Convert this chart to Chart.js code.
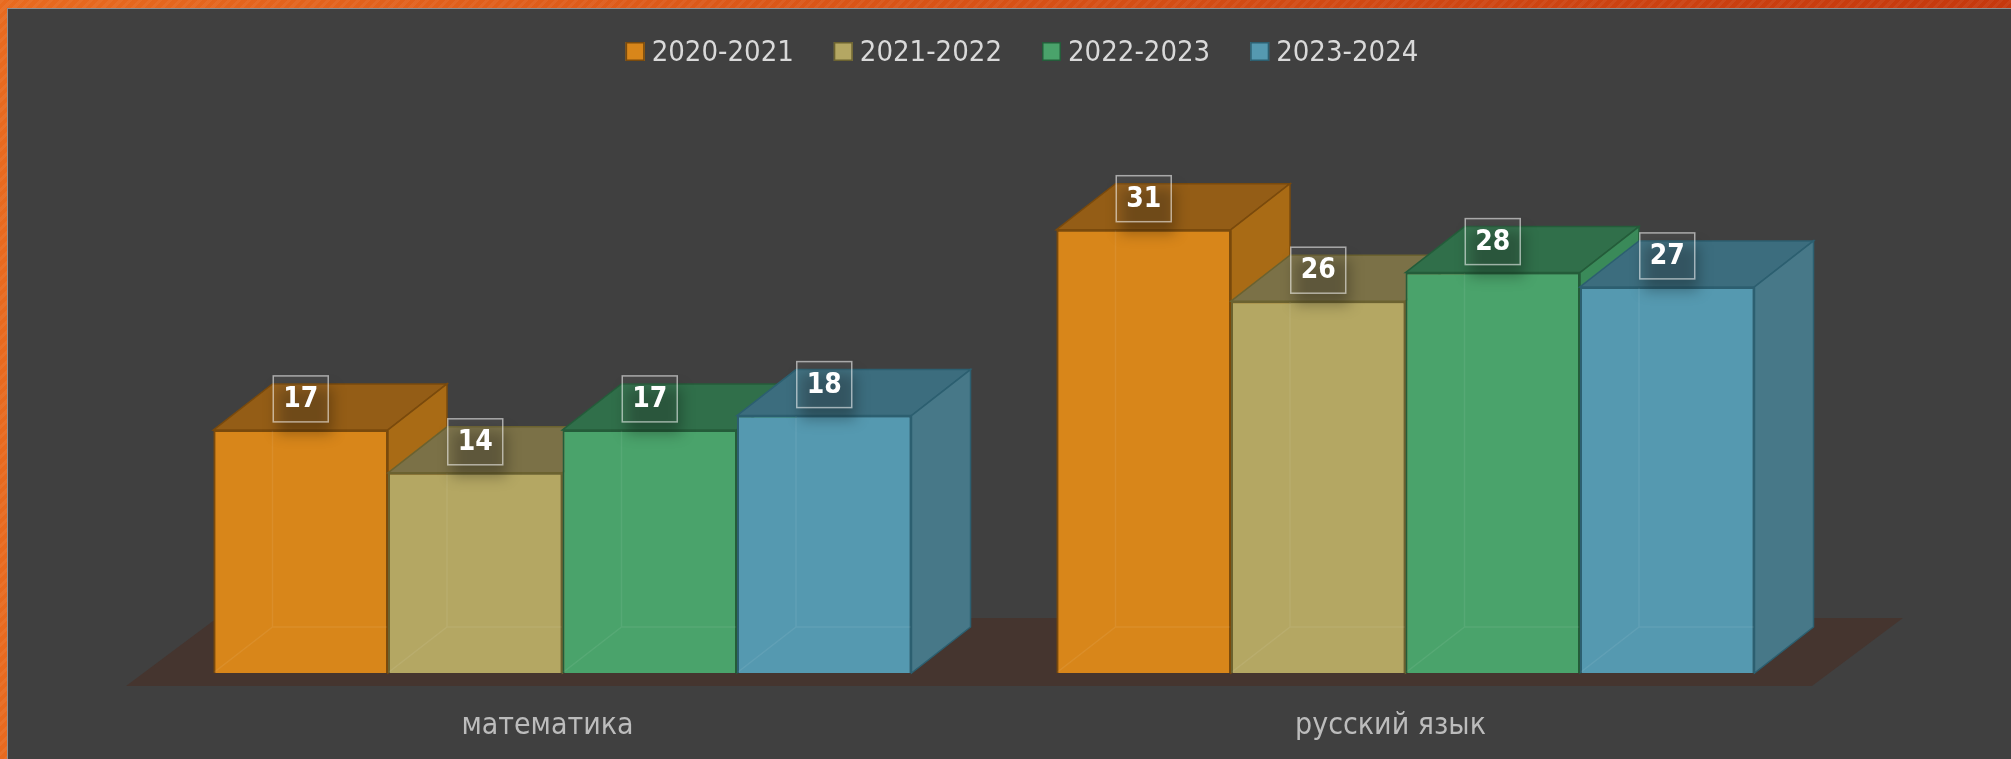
<!DOCTYPE html>
<html lang="ru">
<head>
  <meta charset="UTF-8">
  <title>Результаты по годам</title>
  <script src="https://cdn.jsdelivr.net/npm/chart.js"></script>
  <style>
    body {
      margin: 0;
      width: 2011px;
      height: 759px;
      overflow: hidden;
      position: relative;
      background:
        repeating-linear-gradient(135deg, rgba(255,255,255,0.05) 0 3px, rgba(0,0,0,0) 3px 7px),
        linear-gradient(90deg, #e86a1f, #c5380d);
    }
    .panel {
      position: absolute;
      left: 7px;
      top: 8px;
      right: 0;
      bottom: 0;
      background-color: #404040;
      border-top: 1px solid #8f8f8f;
      border-left: 1px solid #8f8f8f;
    }
    #chart {
      position: absolute;
      left: 0;
      top: 0;
    }
  </style>
</head>
<body>
  <div class="panel">
    <canvas id="chart" width="2003" height="750"></canvas>
  </div>

  <script>
    // data
    const subjects = ['математика', 'русский язык'];
    const years = ['2020-2021', '2021-2022', '2022-2023', '2023-2024'];
    const y2020 = [17, 31];
    const y2021 = [14, 26];
    const y2022 = [17, 28];
    const y2023 = [18, 27];

    // colours: front, top, side, edge
    const fronts = ['#d8861a', '#b4a763', '#4aa36b', '#5599b0'];
    const tops = ['#945d16', '#7b7147', '#306f4a', '#3c6d7e'];
    const sides = ['#a96b15', '#8e8552', '#3a8a59', '#477888'];
    const edges = ['#7a4a0c', '#6b6230', '#245c3a', '#2c5f70'];

    const depth = { dx: 59, dy: 46 };
    const floorDepth = { dx: 91, dy: 68 };
    const fontFamily = '"DejaVu Sans Condensed", "DejaVu Sans", sans-serif';

    function poly(ctx, pts, fill, stroke) {
      ctx.beginPath();
      ctx.moveTo(pts[0][0], pts[0][1]);
      for (let i = 1; i < pts.length; i++) ctx.lineTo(pts[i][0], pts[i][1]);
      ctx.closePath();
      ctx.fillStyle = fill;
      ctx.fill();
      if (stroke) {
        ctx.strokeStyle = stroke;
        ctx.lineWidth = 1.5;
        ctx.stroke();
      }
    }

    // legend drawn on the canvas, tight box/text spacing like the original
    const topLegend = {
      id: 'topLegend',
      afterDraw(chart) {
        const ctx = chart.ctx;
        const box = 19, gap = 7, spacing = 40;
        ctx.save();
        ctx.font = '29px ' + fontFamily;
        ctx.textBaseline = 'alphabetic';
        ctx.textAlign = 'left';
        const items = chart.data.datasets.map(ds => ({
          ds, w: box + gap + ctx.measureText(ds.label).width
        }));
        const total = items.reduce((s, it) => s + it.w, 0) + spacing * (items.length - 1);
        let x = 1014 - total / 2;
        const base = 52;
        items.forEach(it => {
          ctx.fillStyle = it.ds.backgroundColor;
          ctx.fillRect(x, base - box, box, box);
          ctx.strokeStyle = it.ds.borderColor;
          ctx.lineWidth = 1.5;
          ctx.strokeRect(x + 0.75, base - box + 0.75, box - 1.5, box - 1.5);
          ctx.fillStyle = '#d9d9d9';
          ctx.fillText(it.ds.label, x + box + gap, base);
          x += it.w + spacing;
        });
        ctx.restore();
      }
    };

    // 3D boxes, floor and value boxes
    const boxes3d = {
      id: 'boxes3d',
      beforeDatasetsDraw(chart) {
        const ctx = chart.ctx;
        const area = chart.chartArea;
        const y0 = chart.scales.y.getPixelForValue(0) + 13;
        const l = area.left - 15;
        const r = area.right - 15;
        ctx.save();
        poly(ctx, [[l, y0], [r, y0], [r + floorDepth.dx, y0 - floorDepth.dy], [l + floorDepth.dx, y0 - floorDepth.dy]], '#45352f');
        ctx.restore();
      },
      afterDatasetsDraw(chart) {
        const ctx = chart.ctx;
        const n = chart.data.labels.length;
        ctx.save();
        for (let j = 0; j < n; j++) {
          chart.data.datasets.forEach((ds, i) => {
            const bar = chart.getDatasetMeta(i).data[j];
            const p = bar.getProps(['x', 'y', 'base', 'width'], true);
            const l = p.x - p.width / 2;
            const r = p.x + p.width / 2;
            const { dx, dy } = depth;
            bar.draw(ctx);
            // faint back edges seen through the front
            ctx.strokeStyle = 'rgba(255,255,255,0.07)';
            ctx.lineWidth = 1.5;
            ctx.beginPath();
            ctx.moveTo(l + dx, p.y);
            ctx.lineTo(l + dx, p.base - dy);
            ctx.lineTo(r, p.base - dy);
            ctx.moveTo(l + 1, p.base - 1);
            ctx.lineTo(l + dx, p.base - dy);
            ctx.stroke();
            poly(ctx, [[l, p.y], [l + dx, p.y - dy], [r + dx, p.y - dy], [r, p.y]], tops[i], edges[i]);
            poly(ctx, [[r, p.y], [r + dx, p.y - dy], [r + dx, p.base - dy], [r, p.base]], sides[i], edges[i]);
          });
        }

        // value boxes
        ctx.font = 'bold 28px ' + fontFamily;
        ctx.textAlign = 'center';
        ctx.textBaseline = 'middle';
        chart.data.datasets.forEach((ds, i) => {
          chart.getDatasetMeta(i).data.forEach((bar, j) => {
            const cx = bar.x;
            const cy = bar.y - 31;
            const w = 55, h = 46;
            ctx.save();
            ctx.filter = 'blur(7px)';
            ctx.fillStyle = 'rgba(0,0,0,0.28)';
            ctx.fillRect(cx - w / 2 + 4, cy - h / 2 + 12, w, h);
            ctx.restore();
            ctx.fillStyle = 'rgba(255,255,255,0.04)';
            ctx.fillRect(cx - w / 2, cy - h / 2, w, h);
            ctx.strokeStyle = 'rgba(255,255,255,0.55)';
            ctx.lineWidth = 1.5;
            ctx.strokeRect(cx - w / 2, cy - h / 2, w, h);
            ctx.fillStyle = '#ffffff';
            ctx.fillText(String(ds.data[j]), cx, cy + 1);
          });
        });
        ctx.restore();
      }
    };

    const seriesValues = [y2020, y2021, y2022, y2023];

    new Chart(document.getElementById('chart'), {
      type: 'bar',
      data: {
        labels: subjects,
        datasets: years.map((year, i) => ({
          label: year,
          data: seriesValues[i],
          backgroundColor: fronts[i],
          borderColor: edges[i],
          borderWidth: 2,
          categoryPercentage: 0.828,
          barPercentage: 1
        }))
      },
      options: {
        responsive: false,
        animation: false,
        events: [],
        layout: {
          padding: { left: 133, right: 184, top: 92, bottom: 15 }
        },
        plugins: {
          tooltip: { enabled: false },
          legend: { display: false }
        },
        scales: {
          x: {
            grid: { display: false, drawTicks: false },
            border: { display: false },
            afterFit(scale) { scale.height = 71; },
            ticks: {
              color: '#bcbcbc',
              padding: 35,
              labelOffset: -15,
              font: { family: fontFamily, size: 30 }
            }
          },
          y: {
            display: false,
            min: 0,
            max: 40
          }
        }
      },
      plugins: [boxes3d, topLegend]
    });
  </script>
</body>
</html>
